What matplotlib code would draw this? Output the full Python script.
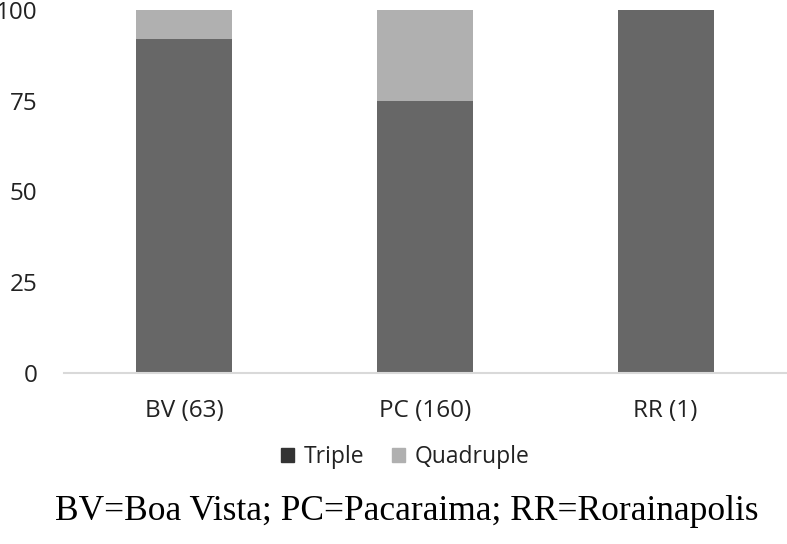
import matplotlib
matplotlib.use("Agg")
import matplotlib.pyplot as plt
from matplotlib.patches import Patch

categories = ["BV (63)", "PC (160)", "RR (1)"]
triple = [92.06, 75.0, 100.0]
quadruple = [7.94, 25.0, 0.0]
series_names = ["Triple", "Quadruple"]
yticks = [0, 25, 50, 75, 100]
caption = "BV=Boa Vista; PC=Pacaraima; RR=Rorainapolis"

c_triple = "#676767"
c_quad = "#b0b0b0"

fig = plt.figure(figsize=(7.87, 5.44), dpi=100)
ax = fig.add_axes([64/787, 1-373/544, (786-64)/787, (373-10)/544])

x = list(range(len(categories)))
ax.bar(x, triple, width=0.40, color=c_triple)
ax.bar(x, quadruple, width=0.40, bottom=triple, color=c_quad)

ax.set_xlim(-0.5, 2.5)
ax.set_ylim(0, 100)
ax.set_yticks(yticks)
ax.set_xticks(x)
ax.set_xticklabels(categories, fontfamily="Open Sans", fontsize=17.5, color="#222222")
for lab in ax.get_yticklabels():
    lab.set_fontfamily("Open Sans")
    lab.set_fontsize(17.5)
    lab.set_color("#222222")
ax.tick_params(axis="both", length=0)
ax.tick_params(axis="y", pad=19)
ax.tick_params(axis="x", pad=19)
for s in ["top", "right", "left"]:
    ax.spines[s].set_visible(False)
ax.spines["bottom"].set_color("#d9d9d9")
ax.spines["bottom"].set_linewidth(1.5)

handles = [Patch(color="#333333"), Patch(color=c_quad)]
fig.legend(handles, series_names, loc="center", bbox_to_anchor=(405/787, 1-457/544),
           ncol=2, frameon=False, prop={"family": "Open Sans", "size": 16.5},
           handlelength=0.6, handleheight=0.6, handletextpad=0.4, columnspacing=1.2,
           labelcolor="#222222")

fig.text(407/787, 1-512/544, caption, ha="center", va="center",
         fontfamily="Liberation Serif", fontsize=25.5, color="black")

fig.savefig("out.png", dpi=100)
